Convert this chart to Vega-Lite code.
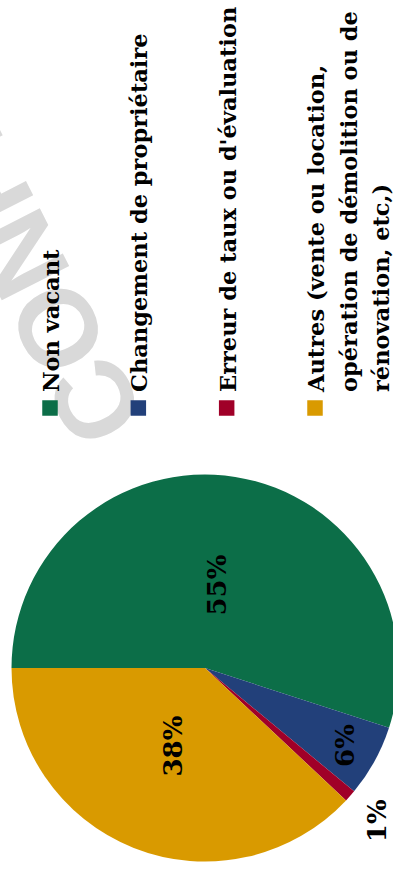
{
  "$schema": "https://vega.github.io/schema/vega-lite/v6.json",
  "padding": 0,
  "spacing": 0,
  "bounds": "flush",
  "background": "white",
  "config": {"view": {"stroke": null}},
  "datasets": {
    "slices": [
      {"category": "Non vacant", "value": 0.55, "rank": 1},
      {"category": "Changement de propriétaire", "value": 0.06, "rank": 2},
      {"category": "Erreur de taux ou d'évaluation", "value": 0.01, "rank": 3},
      {"category": "Autres (vente ou location,\nopération de démolition ou de\nrénovation, etc,)", "value": 0.38, "rank": 4}
    ]
  },
  "vconcat": [
    {
      "width": 393,
      "height": 468,
      "layer": [
        {
          "data": {"values": [{"watermark": "CONFIDENTIEL"}]},
          "mark": {"type": "text", "angle": 243, "align": "left", "baseline": "middle", "dx": -143, "dy": -161, "font": "Liberation Sans", "fontWeight": "bold", "fontSize": 110, "color": "#d9d9d9", "clip": true},
          "encoding": {"text": {"field": "watermark", "type": "nominal"}}
        },
        {
          "data": {"name": "slices"},
          "mark": {"type": "square", "size": 240, "opacity": 1, "yOffset": -60},
          "encoding": {
            "x": {"field": "category", "type": "nominal", "axis": null, "scale": {"type": "point", "padding": 0, "domain": ["Non vacant", "Changement de propriétaire", "Erreur de taux ou d'évaluation", "Autres (vente ou location,\nopération de démolition ou de\nrénovation, etc,)"], "range": [50, 315]}},
            "y": {"datum": 0, "type": "quantitative", "axis": null, "scale": {"domain": [0, 1]}},
            "color": {"field": "category", "type": "nominal", "legend": null, "scale": {"domain": ["Non vacant", "Changement de propriétaire", "Erreur de taux ou d'évaluation", "Autres (vente ou location,\nopération de démolition ou de\nrénovation, etc,)"], "range": ["#0c6e48", "#22407a", "#a00028", "#d99a00"]}}
          }
        },
        {
          "data": {"name": "slices"},
          "mark": {"type": "text", "angle": 270, "align": "left", "baseline": "alphabetic", "dx": 76, "dy": 9, "font": "DejaVu Serif", "fontWeight": "bold", "fontSize": 22.5, "lineBreak": "\n", "lineHeight": 32.5, "color": "black", "clip": true},
          "encoding": {
            "x": {"field": "category", "type": "nominal"},
            "y": {"datum": 0, "type": "quantitative"},
            "text": {"field": "category", "type": "nominal"}
          }
        }
      ]
    },
    {
      "width": 410,
      "height": 400,
      "data": {"name": "slices"},
      "layer": [
        {
          "mark": {"type": "arc", "radius": 193.5},
          "encoding": {
            "theta": {"field": "value", "type": "quantitative", "stack": true, "scale": {"range": [4.712389, 10.995574]}},
            "order": {"field": "rank", "type": "quantitative"},
            "color": {"field": "category", "type": "nominal", "legend": null}
          }
        },
        {
          "mark": {"type": "text", "angle": 270, "align": "center", "baseline": "middle", "font": "DejaVu Serif", "fontWeight": "bold", "fontSize": 26, "color": "black"},
          "encoding": {
            "theta": {"field": "value", "type": "quantitative", "stack": true},
            "order": {"field": "rank", "type": "quantitative"},
            "detail": {"field": "category", "type": "nominal"},
            "radius": {"field": "value", "type": "quantitative", "scale": {"type": "linear", "zero": false, "clamp": true, "domain": [0.01, 0.06, 0.38], "range": [231, 161, 84]}},
            "text": {"field": "value", "type": "quantitative", "format": ".0%"}
          }
        }
      ]
    }
  ]
}
